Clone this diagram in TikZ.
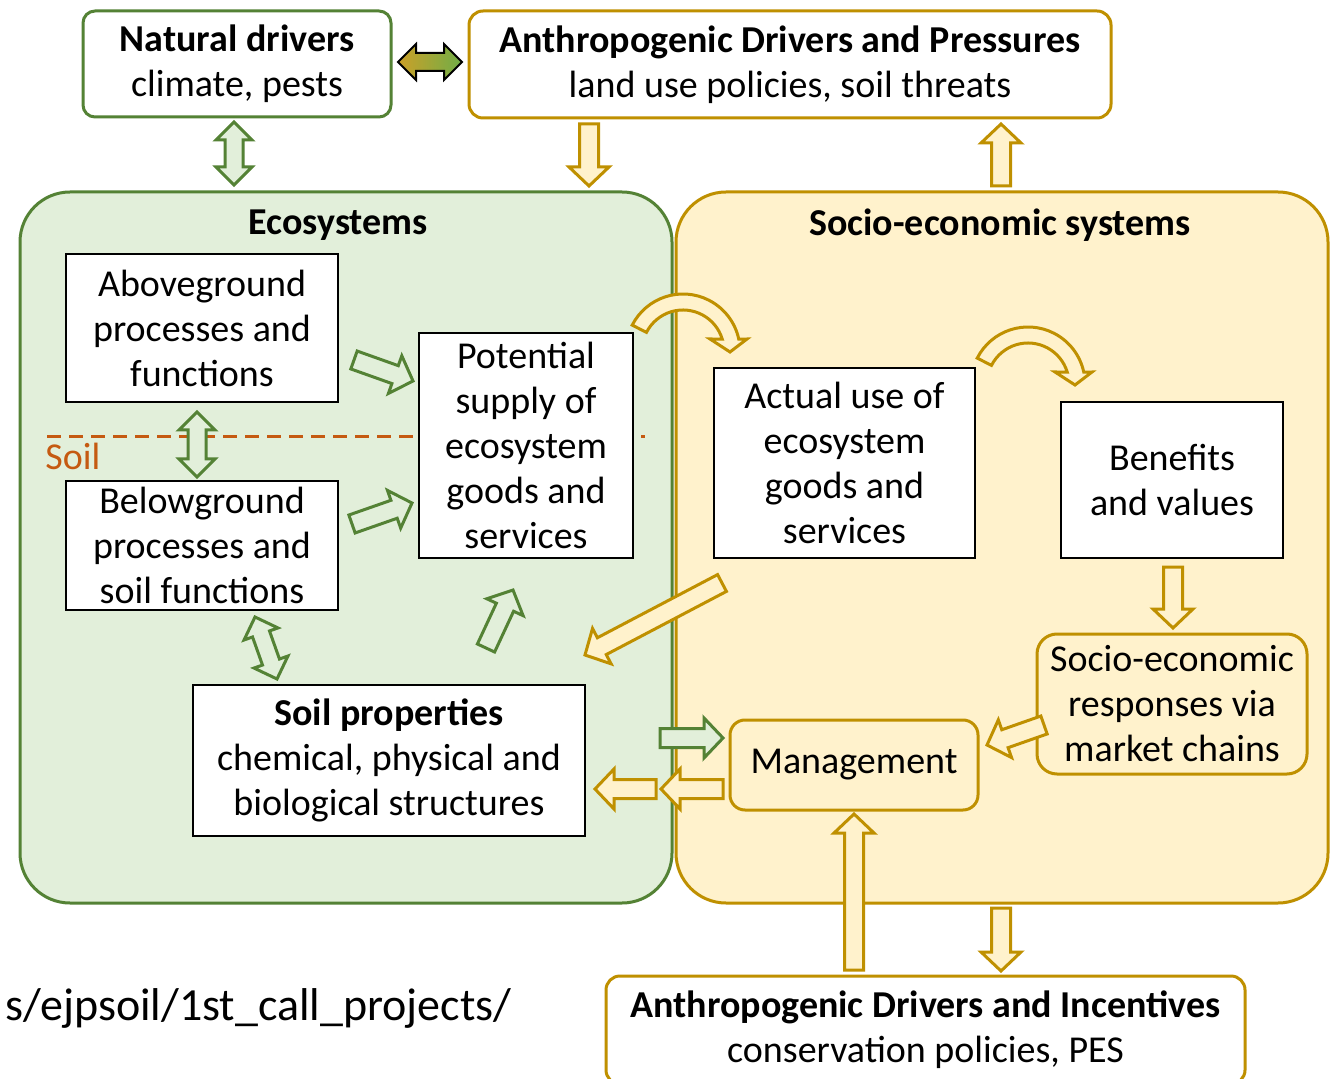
\documentclass[tikz,border=0pt]{standalone}
\usepackage{fontspec}
\setmainfont{Carlito}
\usepackage{tikz}
\usetikzlibrary{calc,positioning}
\definecolor{ecogreen}{RGB}{84,130,53}
\definecolor{ecofill}{RGB}{226,239,218}
\definecolor{sesgold}{RGB}{191,144,0}
\definecolor{sesfill}{RGB}{255,242,204}
\definecolor{soilorange}{RGB}{197,90,17}
\definecolor{gradgold}{RGB}{204,160,40}
\definecolor{gradgreen}{RGB}{112,173,71}
% block arrow : style, tail, tip
\newcommand{\blockarrow}[3]{%
  \coordinate (ba-c) at ($(#3)!9.5pt!(#2)$);
  \draw[#1] ($(#2)!4.75pt!90:(#3)$) -- ($(ba-c)!4.75pt!90:(#3)$) -- ($(ba-c)!10pt!90:(#3)$) -- (#3)
    -- ($(ba-c)!10pt!-90:(#3)$) -- ($(ba-c)!4.75pt!-90:(#3)$) -- ($(#2)!4.75pt!-90:(#3)$) -- cycle;}
% double block arrow : style, end, end
\newcommand{\twoarrow}[3]{%
  \coordinate (ta-a) at ($(#2)!9pt!(#3)$);
  \coordinate (ta-b) at ($(#3)!9pt!(#2)$);
  \draw[#1] (#2) -- ($(ta-a)!9pt!90:(#3)$) -- ($(ta-a)!4.5pt!90:(#3)$) -- ($(ta-b)!4.5pt!90:(#3)$)
    -- ($(ta-b)!9pt!90:(#3)$) -- (#3) -- ($(ta-b)!9pt!-90:(#3)$) -- ($(ta-b)!4.5pt!-90:(#3)$)
    -- ($(ta-a)!4.5pt!-90:(#3)$) -- ($(ta-a)!9pt!-90:(#3)$) -- cycle;}
% curved block arrow round a centre
\newcommand{\curvearrow}[2]{%
  \draw[#1,shift={(#2)}] (-153:57) arc[start angle=-153,end angle=-12,radius=57] -- (64,-12) -- (47,1)
    -- (27,-12) -- (-17:41) arc[start angle=-17,end angle=-153,radius=41] -- cycle;}

\begin{document}
\begin{tikzpicture}[x=0.5pt,y=-0.5pt,line join=miter,
  txt/.style={font=\fontsize{19}{22.5}\selectfont,align=center,inner sep=0pt},
  whitebox/.style={txt,draw=black,line width=1pt,fill=white},
  greenbox/.style={txt,draw=ecogreen,line width=1.5pt,fill=white},
  goldbox/.style={txt,draw=sesgold,line width=1.5pt,fill=white},
  greenarrow/.style={draw=ecogreen,fill=ecofill,line width=1.5pt},
  goldarrow/.style={draw=sesgold,fill=sesfill,line width=1.5pt}]
\useasboundingbox (0,0) rectangle (1337,1079);
\clip (0,0) rectangle (1337,1079);
\fill[white] (0,0) rectangle (1337,1079);

% the two systems
\node[draw=ecogreen,fill=ecofill,line width=1.5pt,rounded corners=25pt,minimum width=326pt,minimum height=355.5pt] (eco) at (346,547.5) {};
\node[draw=sesgold,fill=sesfill,line width=1.5pt,rounded corners=25pt,minimum width=326pt,minimum height=355.5pt] (ses) at (1002,547.5) {};
\node[txt,font=\fontsize{19}{22.5}\selectfont\bfseries] (ecoT) at (338,225) {Ecosystems};
\node[txt,font=\fontsize{19}{22.5}\selectfont\bfseries] (sesT) at (1000,225) {Socio-economic systems};

% drivers
\node[greenbox,rounded corners=6pt,minimum width=154pt,minimum height=53pt] (nat) at (237,64) {\textbf{Natural drivers}\\climate, pests};
\node[goldbox,rounded corners=7pt,minimum width=321pt,minimum height=53.5pt] (press) at (790,64.5) {\textbf{Anthropogenic Drivers and Pressures}\\land use policies, soil threats};
\node[goldbox,rounded corners=7pt,minimum width=319.5pt,minimum height=54pt] (incent) at (925.5,1030) {\textbf{Anthropogenic Drivers and Incentives}\\conservation policies, PES};

% soil line
\draw[soilorange,line width=1.5pt,dash pattern=on 7pt off 4pt] (47,437) -- (645,437);
\node[txt,text=soilorange,anchor=west] (soilL) at (45,456) {Soil};

% ecosystem boxes
\node[whitebox,minimum width=136pt,minimum height=74pt] (above) at (202,328) {Aboveground\\processes and\\functions};
\node[whitebox,minimum width=136pt,minimum height=64.5pt] (below) at (202,545.5) {Belowground\\processes and\\soil functions};
\node[whitebox,minimum width=107pt,minimum height=112.5pt] (supply) at (526,445.5) {Potential\\supply of\\ecosystem\\goods and\\services};
\node[whitebox,minimum width=196pt,minimum height=75.5pt] (props) at (389,760.5) {\textbf{Soil properties}\\chemical, physical and\\biological structures};

% socio-economic boxes
\node[whitebox,minimum width=130.5pt,minimum height=95pt] (use) at (844.5,463) {Actual use of\\ecosystem\\goods and\\services};
\node[whitebox,minimum width=111pt,minimum height=78pt] (benef) at (1172,480) {Benefits\\and values};
\node[goldbox,fill=sesfill,rounded corners=10pt,minimum width=135pt,minimum height=70pt] (resp) at (1172,704) {Socio-economic\\responses via\\market chains};
\node[goldbox,fill=sesfill,rounded corners=7.5pt,minimum width=124pt,minimum height=45pt] (manag) at (854,765) {Management};

% arrow ends
\coordinate (natS) at (234,122); \coordinate (ecoN) at (234,185);
\coordinate (pressS) at (589,124); \coordinate (ecoNE) at (589,186);
\coordinate (sesN) at (1001,186); \coordinate (pressSE) at (1001,124);
\coordinate (aboveE) at (354,360); \coordinate (supplyW1) at (413,381);
\coordinate (belowE) at (352,524); \coordinate (supplyW2) at (412,503);
\coordinate (aboveS) at (197,412); \coordinate (belowN) at (197,477);
\coordinate (belowS) at (255,617); \coordinate (propsN) at (277,679);
\coordinate (propsNE) at (486,648); \coordinate (supplyS) at (513,590);
\coordinate (useSW) at (722,583); \coordinate (ecoE) at (585,655);
\coordinate (benefS) at (1173,567); \coordinate (respN) at (1173,628);
\coordinate (respW) at (1044,725); \coordinate (managE) at (987,745);
\coordinate (ecoM) at (660,738); \coordinate (managW1) at (723,738);
\coordinate (managW2) at (723,789); \coordinate (sesW) at (661,789);
\coordinate (ecoR) at (656,789); \coordinate (propsE) at (595,789);
\coordinate (incentN) at (854,970); \coordinate (managS) at (854,814);
\coordinate (sesS) at (1001,908); \coordinate (incentNE) at (1001,971);
\coordinate (natE) at (398,62); \coordinate (pressW) at (462,62);
\coordinate (bend1) at (683,351); \coordinate (bend2) at (1028,384);

% arrows
\twoarrow{draw=black,line width=1pt,left color=gradgold,middle color=gray!25,right color=gradgreen}{natE}{pressW}
\twoarrow{greenarrow}{natS}{ecoN}
\blockarrow{goldarrow}{pressS}{ecoNE}
\blockarrow{goldarrow}{sesN}{pressSE}
\blockarrow{greenarrow}{aboveE}{supplyW1}
\blockarrow{greenarrow}{belowE}{supplyW2}
\twoarrow{greenarrow}{aboveS}{belowN}
\twoarrow{greenarrow}{belowS}{propsN}
\blockarrow{greenarrow}{propsNE}{supplyS}
\curvearrow{goldarrow}{bend1}
\curvearrow{goldarrow}{bend2}
\blockarrow{goldarrow}{useSW}{ecoE}
\blockarrow{goldarrow}{benefS}{respN}
\blockarrow{goldarrow}{respW}{managE}
\blockarrow{greenarrow}{ecoM}{managW1}
\blockarrow{goldarrow}{managW2}{sesW}
\blockarrow{goldarrow}{ecoR}{propsE}
\blockarrow{goldarrow}{incentN}{managS}
\blockarrow{goldarrow}{sesS}{incentNE}

% source
\node[txt,font=\fontsize{23}{27}\selectfont,anchor=east] (url) at (512,1008) {s/ejpsoil/1st\_call\_projects/};
\end{tikzpicture}
\end{document}
